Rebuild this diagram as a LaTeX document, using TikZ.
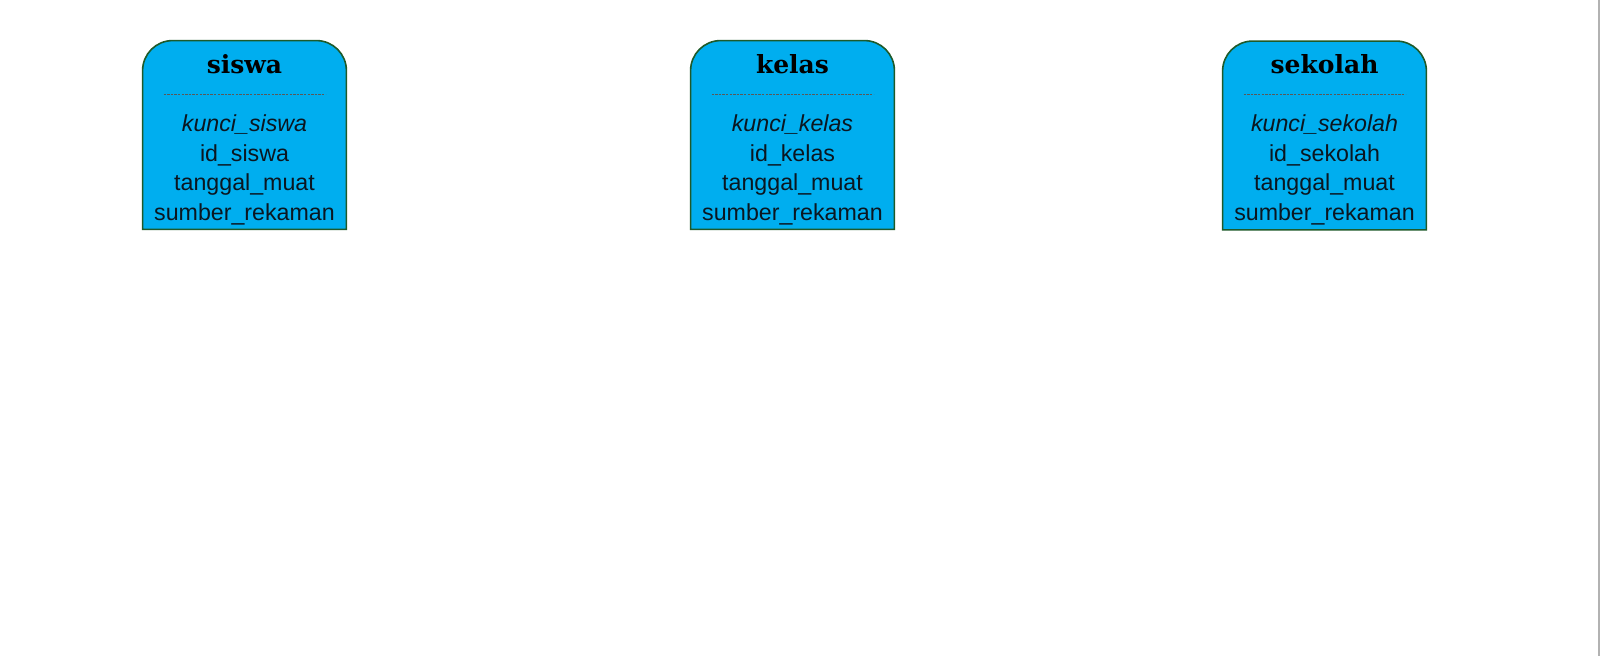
\documentclass[tikz,border=0pt]{standalone}
\usepackage{fontspec}
\setmainfont{Liberation Sans}
\newfontfamily\titlefont{DejaVu Serif}
\definecolor{boxfill}{HTML}{00AEEF}
\definecolor{boxline}{HTML}{1E5A2A}
\definecolor{txt}{HTML}{0B1620}
\tikzset{
  entbox/.style={draw=none, minimum width=101.5pt, minimum height=94pt, inner sep=0pt},
  entoutline/.style={draw=boxline, line width=0.8pt, fill=boxfill},
  enttitle/.style={font=\titlefont\bfseries\fontsize{12.5}{15}\selectfont, text=black, inner sep=0pt},
  entfield/.style={font=\fontsize{11.6}{13}\selectfont, text=txt, inner sep=0pt},
  sepline/.style={draw=gray!70!black, line width=0.3pt, dash pattern=on 1.2pt off 0.6pt}
}
\newcommand{\entityDraw}[6]{%
  % #1 name, #2 center x, #3 center y, #4 title, #5 key, #6 id
  \node[entbox] (#1) at (#2,#3) {};
  \draw[entoutline] (#1.south west) [rounded corners=15pt] -- (#1.north west) -- (#1.north east) [sharp corners] -- (#1.south east) -- cycle;
  \node[enttitle] (#1-title) at (#2,64) {#4};
  \coordinate (#1-sepl) at ([xshift=-40.5pt]#1.center |- 0,94);
  \coordinate (#1-sepr) at ([xshift=40.5pt]#1.center |- 0,94);
  \draw[sepline] (#1-sepl) -- (#1-sepr);
  \node[entfield] (#1-key) at (#2,125) {\itshape #5};
  \node[entfield] (#1-id) at (#2,155) {#6};
  \node[entfield] (#1-date) at (#2,185) {tanggal\_muat};
  \node[entfield] (#1-src) at (#2,214) {sumber\_rekaman};
}
\begin{document}
\begin{tikzpicture}[x=0.5pt,y=-0.5pt]
\useasboundingbox (0,0) rectangle (1600,656);
\fill[white] (0,0) rectangle (1600,656);
\entityDraw{siswa}{244.5}{135}{siswa}{kunci\_siswa}{id\_siswa}
\entityDraw{kelas}{792.5}{135}{kelas}{kunci\_kelas}{id\_kelas}
\entityDraw{sekolah}{1324.5}{135.5}{sekolah}{kunci\_sekolah}{id\_sekolah}
\draw[gray!60, line width=0.8pt] (1599,0) -- (1599,656);
\end{tikzpicture}
\end{document}
